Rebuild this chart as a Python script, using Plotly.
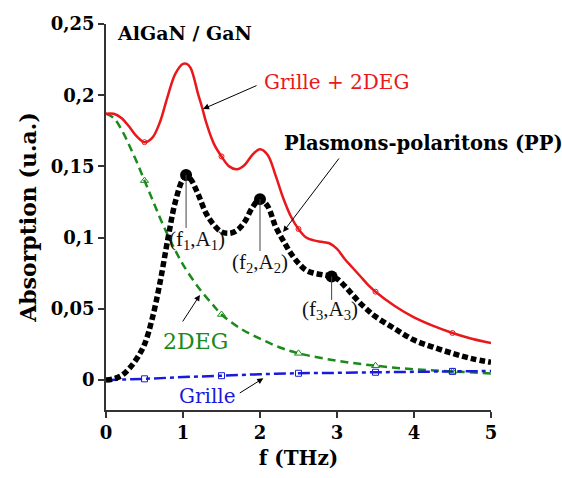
import plotly.graph_objects as go

# ---- data ----
f_red = [0, 0.1, 0.2, 0.3, 0.4, 0.5, 0.6, 0.7, 0.8, 0.9, 1.0, 1.05, 1.1, 1.2, 1.25, 1.3, 1.4, 1.5, 1.6, 1.7,
         1.8, 1.9, 2.0, 2.1, 2.2, 2.3, 2.4, 2.5, 2.6, 2.7, 2.8, 2.9, 3.0, 3.1, 3.2, 3.3, 3.4, 3.5,
         3.75, 4.0, 4.25, 4.5, 4.75, 5.0]
a_red = [0.187, 0.187, 0.184, 0.178, 0.171, 0.167, 0.170, 0.181, 0.199, 0.215, 0.222, 0.222, 0.219, 0.200,
         0.191, 0.181, 0.166, 0.157, 0.150, 0.148, 0.151, 0.158, 0.162, 0.158, 0.144, 0.128, 0.115,
         0.106, 0.100, 0.098, 0.097, 0.096, 0.092, 0.085, 0.079, 0.073, 0.067, 0.062,
         0.052, 0.044, 0.038, 0.033, 0.029, 0.026]

f_pp = [0, 0.1, 0.2, 0.3, 0.4, 0.5, 0.6, 0.7, 0.8, 0.9, 1.0, 1.05, 1.1, 1.2, 1.3, 1.4, 1.5, 1.6, 1.7,
        1.8, 1.9, 2.0, 2.1, 2.2, 2.3, 2.4, 2.5, 2.6, 2.7, 2.8, 2.9, 3.0, 3.1, 3.2, 3.3, 3.4, 3.5,
        3.75, 4.0, 4.25, 4.5, 4.75, 5.0]
a_pp = [0.0, 0.0008, 0.003, 0.008, 0.015, 0.025, 0.043, 0.068, 0.098, 0.125, 0.141, 0.143, 0.141, 0.130,
        0.117, 0.109, 0.104, 0.103, 0.105, 0.111, 0.121, 0.127, 0.122, 0.108, 0.098, 0.089, 0.082,
        0.077, 0.075, 0.074, 0.073, 0.071, 0.066, 0.060, 0.054, 0.049, 0.0445,
        0.036, 0.028, 0.023, 0.0187, 0.015, 0.0124]

f_2deg = [0, 0.1, 0.2, 0.3, 0.4, 0.5, 0.6, 0.7, 0.8, 0.9, 1.0, 1.2, 1.4, 1.5, 1.75, 2.0, 2.25, 2.5,
          3.0, 3.5, 4.0, 4.5, 5.0]
a_2deg = [0.187, 0.184, 0.176, 0.165, 0.153, 0.140, 0.127, 0.114, 0.102, 0.091, 0.081, 0.065, 0.052,
          0.046, 0.036, 0.029, 0.023, 0.0187, 0.0135, 0.010, 0.0075, 0.006, 0.0045]

f_grille = [0, 0.5, 1.0, 1.5, 2.0, 2.5, 3.0, 3.5, 4.0, 4.5, 5.0]
a_grille = [0.0, 0.0008, 0.002, 0.003, 0.004, 0.0047, 0.005, 0.0054, 0.0057, 0.006, 0.0063]

marker_f = [0.5, 1.5, 2.5, 3.5, 4.5]

peak_f = [1.04, 2.0, 2.93]
peak_a = [0.144, 0.127, 0.0726]
peak_labels = ["(f<sub>1</sub>,A<sub>1</sub>)", "(f<sub>2</sub>,A<sub>2</sub>)", "(f<sub>3</sub>,A<sub>3</sub>)"]

y_tickvals = [0, 0.05, 0.1, 0.15, 0.2, 0.25]
y_ticktext = ["0", "0,05", "0,1", "0,15", "0,2", "0,25"]
x_tickvals = [0, 1, 2, 3, 4, 5]

FONT = "DejaVu Serif"
FONT2 = "Liberation Serif"
RED = "#e8181c"
GREEN = "#1a8a1a"
BLUE = "#1a1adc"


def pick(xs, ys, sel):
    return [ys[xs.index(v)] for v in sel]


fig = go.Figure()

# Curves
fig.add_trace(go.Scatter(x=f_2deg, y=a_2deg, mode="lines", line=dict(color=GREEN, width=2.5, dash="8px,5px", shape="spline"),
                         showlegend=False))
fig.add_trace(go.Scatter(x=f_grille, y=a_grille, mode="lines", line=dict(color=BLUE, width=2.5, dash="12px,4px,4px,4px", shape="spline"),
                         showlegend=False))
fig.add_trace(go.Scatter(x=f_red, y=a_red, mode="lines", line=dict(color=RED, width=2.5, shape="spline"),
                         showlegend=False))
fig.add_trace(go.Scatter(x=f_pp, y=a_pp, mode="lines", line=dict(color="black", width=5.5, dash="6px,3px", shape="spline"),
                         showlegend=False))

# Open markers
fig.add_trace(go.Scatter(x=marker_f, y=pick(f_red, a_red, marker_f), mode="markers",
                         marker=dict(symbol="circle-open", size=5, color=RED, line=dict(width=1)), showlegend=False))
fig.add_trace(go.Scatter(x=marker_f, y=pick(f_2deg, a_2deg, marker_f), mode="markers",
                         marker=dict(symbol="triangle-up-open", size=7, color=GREEN, line=dict(width=1)), showlegend=False))
fig.add_trace(go.Scatter(x=marker_f, y=pick(f_grille, a_grille, marker_f), mode="markers",
                         marker=dict(symbol="square-open", size=6, color=BLUE, line=dict(width=1)), showlegend=False))

# Peaks
fig.add_trace(go.Scatter(x=peak_f, y=peak_a, mode="markers", marker=dict(symbol="circle", size=12, color="black"),
                         showlegend=False))

# vertical lines under peaks and labels
line_bottom = [0.1067, 0.0906, 0.0562]
label_y = [0.0985, 0.0822, 0.0488]
label_x = [1.18, 2.0, 2.905]
for xf, ya, yb, lx, ly, txt in zip(peak_f, peak_a, line_bottom, label_x, label_y, peak_labels):
    fig.add_shape(type="line", x0=xf, x1=xf, y0=ya, y1=yb, line=dict(color="#444", width=1))
    fig.add_annotation(x=lx, y=ly, text=txt, showarrow=False, font=dict(family=FONT2, size=21, color="#111"),
                       xanchor="center", yanchor="middle")

# Text annotations
fig.add_annotation(x=0.117, y=0.2437, text="<b>AlGaN / GaN</b>", showarrow=False, xanchor="left", yanchor="middle",
                   font=dict(family=FONT, size=19, color="black"))
fig.add_annotation(x=2.026, y=0.2093, text="Grille + 2DEG", showarrow=False, xanchor="left", yanchor="middle",
                   font=dict(family=FONT, size=20, color=RED))
fig.add_annotation(x=4.12, y=0.1664, text="<b>Plasmons-polaritons (PP)</b>", showarrow=False, xanchor="center",
                   yanchor="middle", font=dict(family=FONT, size=19.5, color="black"))
fig.add_annotation(x=1.156, y=0.0269, text="2DEG", showarrow=False, xanchor="center", yanchor="middle",
                   font=dict(family=FONT, size=22, color=GREEN))
fig.add_annotation(x=1.318, y=-0.0112, text="Grille", showarrow=False, xanchor="center", yanchor="middle",
                   font=dict(family=FONT, size=20, color=BLUE))

# Arrows (head at x,y ; tail at ax,ay)
arrows = [
    (1.26, 0.1903, 1.974, 0.2072),
    (2.30, 0.1039, 3.04, 0.1566),
    (1.22, 0.0597, 0.983, 0.040),
    (2.043, 0.0012, 1.718, -0.0098),
]
for hx, hy, tx, ty in arrows:
    fig.add_annotation(x=hx, y=hy, ax=tx, ay=ty, xref="x", yref="y", axref="x", ayref="y", text="",
                       showarrow=True, arrowhead=2, arrowsize=1.2, arrowwidth=1, arrowcolor="black")

fig.update_layout(
    width=562, height=478,
    margin=dict(l=106, r=71, t=24, b=68),
    paper_bgcolor="white", plot_bgcolor="white",
    font=dict(family=FONT, color="black"),
    xaxis=dict(range=[0, 5], tickvals=x_tickvals, ticktext=["<b>%d</b>" % v for v in x_tickvals],
               ticks="outside", ticklen=6, tickwidth=1.5, tickcolor="#333",
               showline=True, linecolor="#333", linewidth=1.5, showgrid=False, zeroline=False,
               tickfont=dict(family=FONT, size=18, color="black"),
               title=dict(text="<b>f (THz)</b>", font=dict(family=FONT, size=20, color="black"), standoff=9)),
    yaxis=dict(range=[-0.0211, 0.25], tickvals=y_tickvals, ticktext=["<b>%s</b>" % t for t in y_ticktext],
               ticks="outside", ticklen=6, tickwidth=1.5, tickcolor="#333",
               showline=True, linecolor="#333", linewidth=1.5, showgrid=False, zeroline=False,
               tickfont=dict(family=FONT, size=18, color="black"),
               title=dict(text="<b>Absorption (u.a.)</b>", font=dict(family=FONT, size=22, color="black"), standoff=8)),
)

fig.write_html("out.html")
